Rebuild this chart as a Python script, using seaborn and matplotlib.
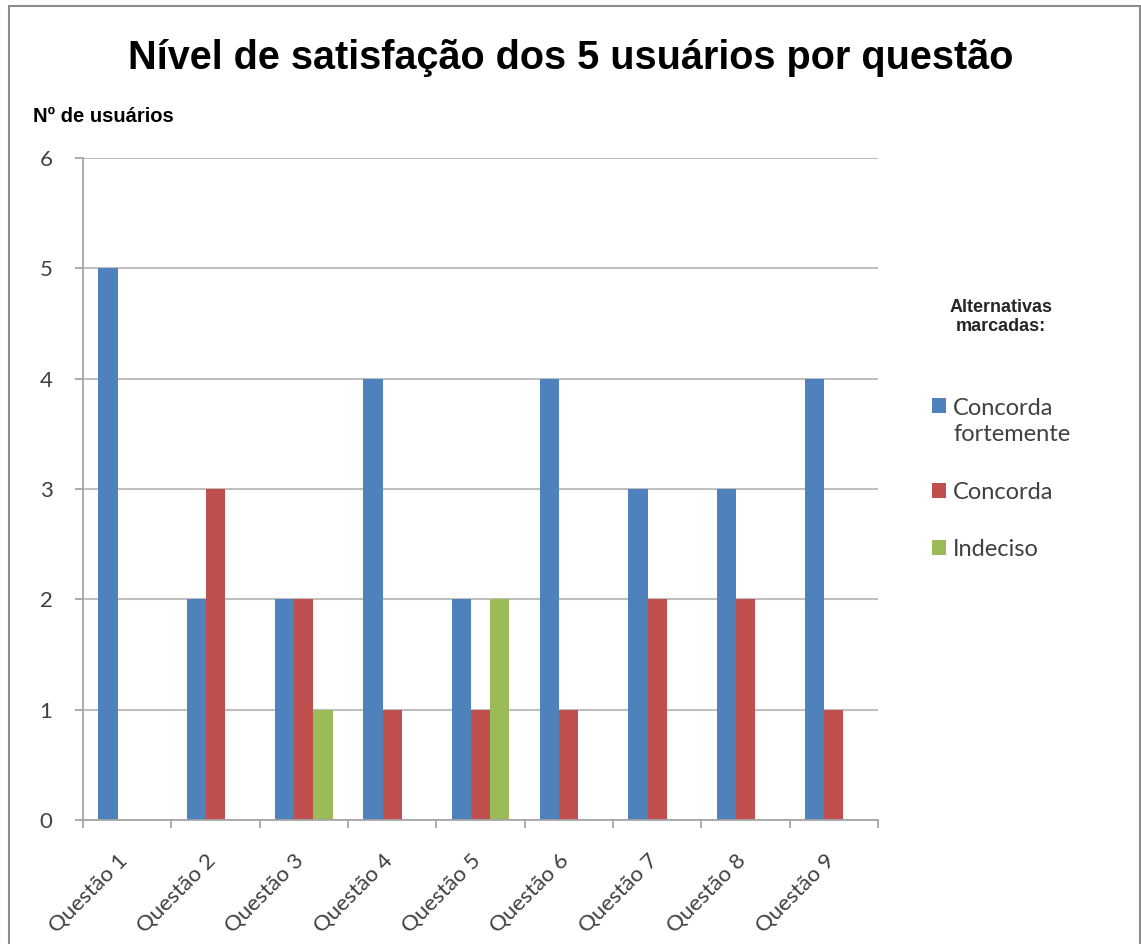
import matplotlib
matplotlib.use("Agg")
import matplotlib.pyplot as plt
import seaborn as sns
import pandas as pd
from matplotlib.patches import Rectangle, Patch
from matplotlib.legend_handler import HandlerPatch
from matplotlib.transforms import ScaledTranslation

categories = ["Questão 1", "Questão 2", "Questão 3", "Questão 4", "Questão 5",
              "Questão 6", "Questão 7", "Questão 8", "Questão 9"]
series_names = ["Concorda\nfortemente", "Concorda", "Indeciso"]
concorda_fortemente = [5, 2, 2, 4, 2, 4, 3, 3, 4]
concorda = [0, 3, 2, 1, 1, 1, 2, 2, 1]
indeciso = [0, 0, 1, 0, 2, 0, 0, 0, 0]
y_ticks = [0, 1, 2, 3, 4, 5, 6]
colors = ["#4F81BD", "#C0504D", "#9BBB59"]

rows = []
for name, vals in zip(series_names, [concorda_fortemente, concorda, indeciso]):
    for c, v in zip(categories, vals):
        rows.append({"Questão": c, "Usuários": v, "Série": name})
df = pd.DataFrame(rows)

sns.set_theme(style="white")
plt.rcParams["font.family"] = ["Lato", "DejaVu Sans"]

fig = plt.figure(figsize=(11.41, 9.44), dpi=100)
ax = fig.add_axes([0.0727, 0.1314, 0.6968, 0.7012])

sns.barplot(data=df, x="Questão", y="Usuários", hue="Série", order=categories,
            hue_order=series_names, palette=colors, saturation=1, width=0.65,
            linewidth=0, edgecolor="none", ax=ax, legend=False)

grid_c = "#BFBFBF"
ax.set_ylim(0, 6)
ax.set_yticks(y_ticks)
ax.set_xlim(-0.5, len(categories) - 0.5)
ax.yaxis.grid(True, color=grid_c, linewidth=1.5)
ax.set_axisbelow(True)
for s in ["top", "right"]:
    ax.spines[s].set_visible(False)
for s in ["left", "bottom"]:
    ax.spines[s].set_color("#A6A6A6")
    ax.spines[s].set_linewidth(1.3)
ax.set_xlabel("")
ax.set_ylabel("")
ax.set_xticks(range(len(categories)))
ax.set_xticklabels(categories, rotation=45, ha="right", va="top",
                   rotation_mode="anchor", fontsize=16, color="#404040")
ax.set_xticks([i - 0.5 for i in range(len(categories) + 1)], minor=True)
ax.tick_params(axis="x", which="major", length=0, pad=22)
ax.tick_params(axis="x", which="minor", length=6, width=1.3, color="#A6A6A6", bottom=True)
ax.tick_params(axis="y", length=6, width=1.3, color="#A6A6A6", left=True,
               labelsize=16, labelcolor="#404040", pad=16)
shift = ScaledTranslation(-7 / 72, 0, fig.dpi_scale_trans)
for lab in ax.get_xticklabels():
    lab.set_transform(lab.get_transform() + shift)

fig.text(0.5, 0.939, "Nível de satisfação dos 5 usuários por questão",
         ha="center", va="center", fontsize=28.5, fontweight="bold",
         family=["Liberation Sans", "DejaVu Sans"], color="black")
fig.text(0.029, 0.877, "Nº de usuários", ha="left", va="center", fontsize=14.5,
         fontweight="bold", family=["Liberation Sans", "DejaVu Sans"], color="black")


def shifted_patch(legend, orig_handle, xdescent, ydescent, width, height, fontsize):
    return Rectangle((-xdescent, -ydescent + 0.7 * fontsize), width, height)


def plain_patch(legend, orig_handle, xdescent, ydescent, width, height, fontsize):
    return Rectangle((-xdescent, -ydescent), width, height)


handles = [Patch(facecolor=c, edgecolor="none") for c in colors]
handler_map = {handles[0]: HandlerPatch(patch_func=shifted_patch),
               handles[1]: HandlerPatch(patch_func=plain_patch),
               handles[2]: HandlerPatch(patch_func=plain_patch)}
leg = fig.legend(handles, series_names, loc="upper left",
                 bbox_to_anchor=(0.798, 0.706), frameon=False,
                 title="Alternativas\nmarcadas:", fontsize=17,
                 handlelength=0.6, handleheight=0.6, handletextpad=0.3,
                 labelspacing=1.55, alignment="center", handler_map=handler_map)
leg.get_title().set_fontweight("bold")
leg.get_title().set_fontsize(13)
leg.get_title().set_family(["Liberation Sans", "DejaVu Sans"])
leg.get_title().set_multialignment("center")
for t in leg.get_texts():
    t.set_color("#404040")
    t.set_linespacing(1.3)
leg._legend_box.sep = 45

fig.patches.append(Rectangle((0.008, -0.01), 0.991, 1.004, transform=fig.transFigure,
                             fill=False, edgecolor="#8C8C8C", linewidth=1.5))

fig.savefig("out.png", dpi=100)
